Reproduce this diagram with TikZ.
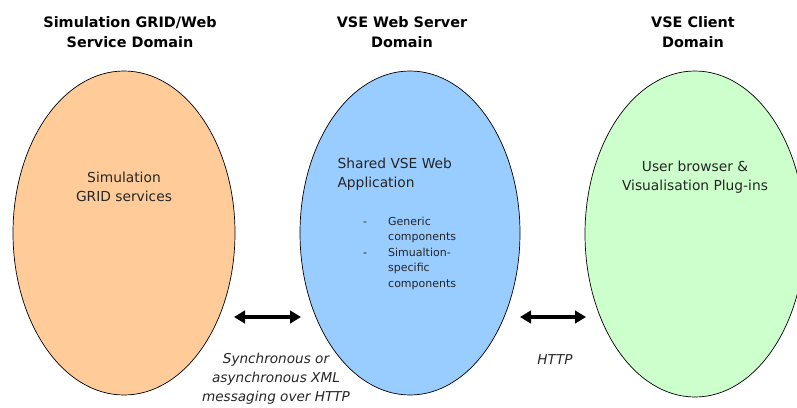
\documentclass[tikz,border=0pt]{standalone}
\usepackage{fontspec}
\setmainfont{DejaVu Sans}
\usetikzlibrary{arrows.meta,shapes.geometric}
\definecolor{gridfill}{HTML}{FFCC99}
\definecolor{serverfill}{HTML}{99CCFF}
\definecolor{clientfill}{HTML}{CCFFCC}
\begin{document}
\begin{tikzpicture}[x=1pt,y=-1pt,
  zone/.style={draw=black,line width=0.7pt},
  heading/.style={font=\fontsize{14.4}{20.5}\selectfont\bfseries,align=center,text=black},
  body/.style={font=\fontsize{13.8}{18.5}\selectfont,align=center,text=black!85},
  note/.style={font=\fontsize{13.6}{19}\selectfont\itshape,align=center,text=black!85},
  link/.style={line width=3.2pt,{Triangle[length=11pt,width=12.5pt]}-{Triangle[length=11pt,width=12.5pt]}}]
\useasboundingbox (0,0) rectangle (797,407);
\clip (0,0) rectangle (797,407);

% domains
\draw[zone,fill=gridfill] (124,233) ellipse [x radius=111,y radius=162];
\draw[zone,fill=serverfill] (410,233) ellipse [x radius=110,y radius=162];
\draw[zone,fill=clientfill] (695,234) ellipse [x radius=110,y radius=163];
\coordinate (gridE) at (234,317);
\coordinate (srvW) at (301,317);
\coordinate (srvE) at (520,317);
\coordinate (cliW) at (586,317);

% headings
\node[heading] (h1) at (130,32) {Simulation GRID/Web\\Service Domain};
\node[heading] (h2) at (402,32) {VSE Web Server\\Domain};
\node[heading] (h3) at (693,32) {VSE Client\\Domain};

% contents
\node[body] (grid) at (124,187) {Simulation\\GRID services};
\node[body,align=left,anchor=west] (app) at (334,174) {Shared VSE Web\\Application};
\node[font=\fontsize{11}{15.6}\selectfont,text=black!85,anchor=north west,inner sep=0pt] (list) at (363,214)
  {\begin{tabular}{@{}p{25pt}@{}l@{}}
   - & Generic\\ & components\\ - & Simualtion-\\ & specific\\ & components
   \end{tabular}};
\node[body] (client) at (695,177) {User browser \&\\Visualisation Plug-ins};

% links
\draw[link] (gridE) -- (srvW);
\draw[link] (srvE) -- (cliW);
\node[note] (n1) at (276,379) {Synchronous or\\asynchronous XML\\messaging over HTTP};
\node[note] (n2) at (555,360) {HTTP};
\end{tikzpicture}
\end{document}
